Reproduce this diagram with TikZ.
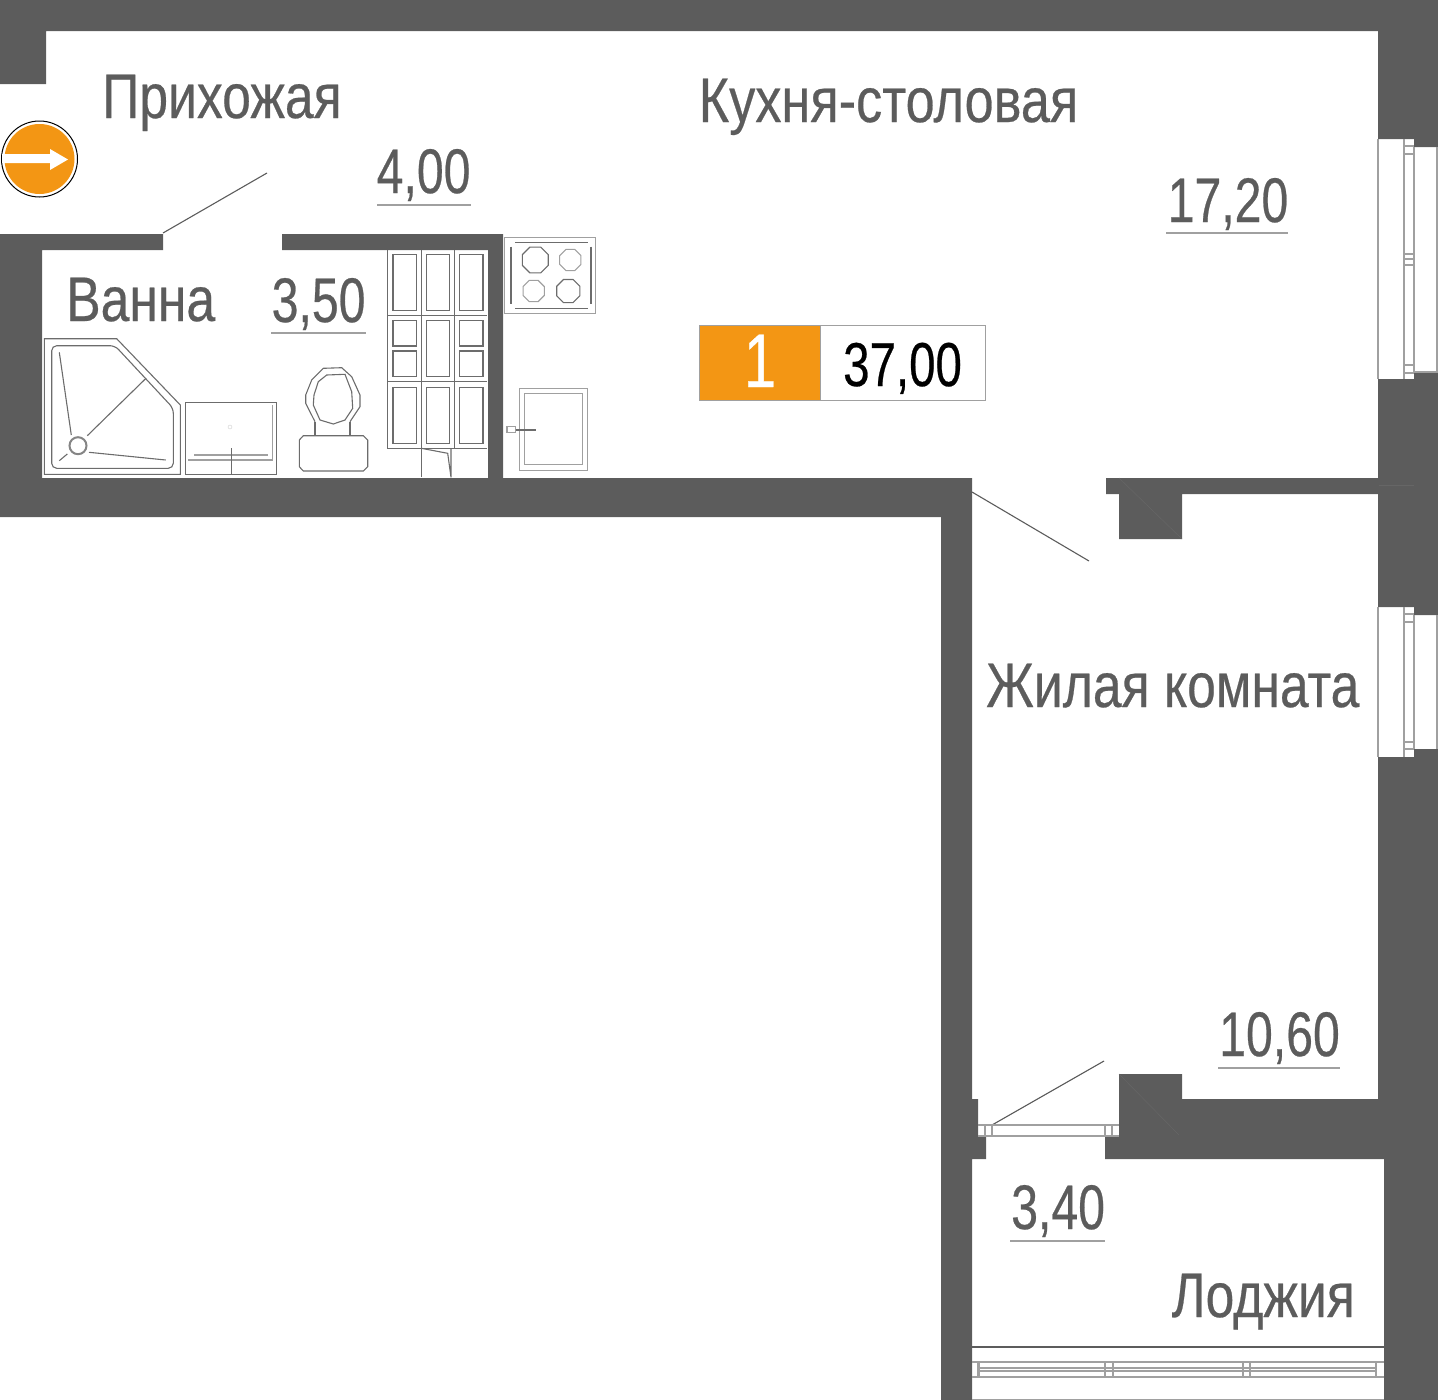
\documentclass[tikz,border=0pt]{standalone}
\usepackage{fontspec}
\setmainfont[FakeStretch=0.82, FakeBold=0.4]{Liberation Sans}
\newfontfamily\widerfont[FakeStretch=0.83, FakeBold=0.4]{Liberation Sans}
\newfontfamily\areafont[FakeStretch=0.765, FakeBold=0.4]{Liberation Sans}
\usetikzlibrary{shapes.geometric, positioning}
\definecolor{wallgrey}{HTML}{5C5C5C}
\definecolor{framegrey}{HTML}{A0A0A0}
\definecolor{signorange}{HTML}{F39614}
\tikzset{
    wall/.style={fill=wallgrey},
    seam/.style={draw=wallgrey!94!white, line width=0.5pt},
    fixture/.style={draw=wallgrey!90!white, line width=1.1pt},
    frame/.style={draw=framegrey, line width=1.1pt},
    doorleaf/.style={draw=wallgrey, line width=1.1pt},
    roomname/.style={anchor=base west, inner sep=0pt, text=wallgrey, font=\fontsize{63}{70}\selectfont},
    roomarea/.style={anchor=base west, inner sep=0pt, text=wallgrey, font=\areafont\fontsize{63}{70}\selectfont},
    rule/.style={draw=framegrey, line width=1.1pt},
    burner/.style={draw=wallgrey!90!white, line width=1.1pt, regular polygon, regular polygon sides=8, inner sep=0pt}
}
\begin{document}
\begin{tikzpicture}[x=1pt, y=-1pt]
        \useasboundingbox (0,0) rectangle (1438,1400);

        % walls
        \fill[wall] (0,0) -- (1438,0) -- (1438,147) -- (1414,147) -- (1414,139) -- (1378,139) -- (1378,31) -- (46,31) -- (46,84) -- (0,84) -- cycle; % top
        \fill[wall] (1378,379) -- (1414,379) -- (1414,372) -- (1438,372) -- (1438,615) -- (1414,615) -- (1414,607) -- (1378,607) -- cycle; % right, between the windows
        \fill[wall] (1378,757) -- (1414,757) -- (1414,749) -- (1438,749) -- (1438,1400) -- (1384,1400) -- (1384,1159) -- (1105,1159) -- (1105,1136) -- (1119,1136) -- (1119,1074) -- (1182,1074) -- (1182,1099) -- (1378,1099) -- cycle; % right, lower
        \fill[wall] (0,234) -- (163,234) -- (163,250) -- (42,250) -- (42,478) -- (488,478) -- (488,250) -- (282,250) -- (282,234) -- (503,234) -- (503,478) -- (972,478) -- (972,1099) -- (978,1099) -- (978,1136) -- (986,1136) -- (986,1159) -- (972,1159) -- (972,1400) -- (941,1400) -- (941,517) -- (0,517) -- cycle; % bath and long wall
        \fill[wall] (1106,478) -- (1378,478) -- (1378,494) -- (1182,494) -- (1182,539) -- (1119,539) -- (1119,494) -- (1106,494) -- cycle; % partition with column
        \draw[seam] (1119,478) -- (1182,539);
        \draw[seam] (1119,1074) -- (1179,1135);
        \draw[seam] (1379,485) -- (1414,485);

        % door leaves
        \draw[doorleaf] (163,233) -- (267,173);
        \draw[doorleaf] (972,492) -- (1089,561);
        \draw[doorleaf] (992,1125) -- (1104,1061);

        % upper window
        \draw[frame] (1437,147) -- (1437,372) -- (1414,372);
        \draw[frame] (1378,139) -- (1378,379) (1404,139) -- (1404,379) (1414,147) -- (1414,372);
        \foreach \y in {146,154,254,259,265,365,373} {
            \draw[frame] (1404,\y) -- (1414,\y);
        }

        % lower window
        \draw[frame] (1437,615) -- (1437,749);
        \draw[frame] (1378,607) -- (1378,757) (1404,607) -- (1404,757) (1414,615) -- (1414,749);
        \foreach \y in {614,622,742,749} {
            \draw[frame] (1404,\y) -- (1414,\y);
        }

        % balcony door frame
        \draw[frame] (978,1125) -- (1119,1125) (978,1136) -- (1119,1136);
        \foreach \x in {985,992,1105,1112} {
            \draw[frame] (\x,1125) -- (\x,1136);
        }

        % loggia glazing
        \draw[doorleaf] (972,1347) -- (1384,1347);
        \draw[frame] (972,1362) -- (1384,1362) (972,1377) -- (1384,1377);
        \draw[frame] (978,1368) -- (1376,1368) (978,1371) -- (1376,1371);
        \foreach \x in {978,979.5,1105,1113,1243,1250,1376} {
            \draw[frame] (\x,1362) -- (\x,1377);
        }
        \draw[frame] (972,1399.4) -- (1384,1399.4);

        % shower
        \draw[fixture] (44.3,338.7) -- (116.7,338.7) -- (180.3,405) -- (180.3,474.3) -- (44.3,474.3) -- cycle;
        \draw[fixture, rounded corners=5pt] (51.7,345.7) -- (115,345.7) -- (173.3,408.3) -- (173.3,468.3) -- (51.7,468.3) -- cycle;
        \draw[fixture, line width=2pt, draw=framegrey!60!wallgrey] (78,445.7) circle[radius=8.5];
        \draw[fixture] (59.3,352.3) -- (71.3,435);
        \draw[fixture] (146,378.3) -- (87.3,435.7);
        \draw[fixture] (89,452.3) -- (165.7,460);
        \draw[fixture] (59.3,460.7) -- (67.3,454);

        % washbasin
        \draw[fixture] (185.3,402.3) rectangle (276.3,474.3);
        \draw[frame] (272.7,405) -- (272.7,460) -- (188.3,460);
        \draw[frame] (194.3,455) -- (267.7,455);
        \draw[fixture] (231.7,448.3) -- (231.7,474.3);
        \draw[frame, line width=0.4pt, draw=framegrey!50!white] (230,427) circle[radius=2];

        % toilet
        \draw[fixture] (315,421.7) -- (305.7,403.3) -- (305.7,395) -- (311.7,380) -- (323.3,368.3) -- (341.7,367.7) -- (351.7,376.7) -- (360,395) -- (360,406.7) -- (350,421.7);
        \draw[fixture] (313.3,405) -- (314,395) -- (318.3,381.7) -- (326.7,375) -- (345,374.3) -- (351.7,391.7) -- (352.7,408.3) -- (345,420) -- (333.3,424) -- (320,420) -- cycle;
        \draw[fixture] (315,421.7) -- (315,435.7) (350,421.7) -- (350,435.7);
        \draw[fixture] (303.3,435.7) -- (363.3,435.7) -- (367.7,440) -- (367.7,466.7) -- (363.3,471) -- (303.3,471) -- (299.3,466.7) -- (299.3,440) -- cycle;

        % cabinet
        \draw[fixture] (387.7,250) -- (387.7,448.3) -- (487,448.3);
        \draw[fixture] (421.3,250) -- (421.3,477.3) (454.3,250) -- (454.3,448.3);
        \draw[fixture] (387.7,315.3) -- (487,315.3) (387.7,381.7) -- (487,381.7);
        \foreach \xa/\xb in {393/416.7,426.3/449.7,459.3/483} {
            \draw[fixture] (\xa,254.3) rectangle (\xb,310.7);
            \draw[fixture] (\xa,387.3) rectangle (\xb,443.3);
        }
        \draw[fixture] (426.3,320.7) rectangle (449.7,376.7);
        \foreach \xa/\xb in {393/416.7,459.3/483} {
            \draw[fixture] (\xa,320.7) rectangle (\xb,346);
            \draw[fixture] (\xa,351) rectangle (\xb,376.7);
        }
        \draw[fixture] (421.3,448.3) -- (447.7,453.3) -- (451,477.3) (451,448.3) -- (451,477.3);

        % cooker
        \draw[frame] (504.3,237.7) rectangle (595.7,313.3);
        \draw[fixture] (515,242.3) -- (587.7,242.3) (515,308.3) -- (587.7,308.3);
        \draw[fixture] (511,246.7) -- (511,304.3) (591,246.7) -- (591,304.3);
        \node[burner, minimum size=28pt] (burnerA) at (535.3,260) {};
        \node[burner, minimum size=23pt, draw=framegrey] (burnerB) at (570.3,260) {};
        \node[burner, minimum size=23pt, draw=framegrey] (burnerC) at (533.7,291) {};
        \node[burner, minimum size=25pt] (burnerD) at (568.3,291) {};

        % fridge
        \draw[frame] (519.3,388.3) rectangle (587.3,470.3);
        \draw[frame, line width=1.4pt] (524.3,393.7) rectangle (582.3,464.3);
        \draw[frame] (507,426.7) rectangle (515.7,432.3);
        \draw[fixture] (515.7,430) -- (535.7,430);

        % entrance sign
        \fill[white] (39.5,159) circle[radius=38];
        \draw[black, line width=1pt] (39.5,159) circle[radius=38];
        \fill[signorange] (39.5,159) circle[radius=35];
        \fill[white] (2,154) -- (50,154) -- (50,149) -- (68,159.5) -- (50,170) -- (50,163) -- (2,163) -- cycle;

        % total area box
        \node[draw=framegrey, fill=signorange, minimum width=121pt, minimum height=75pt, inner sep=0pt, outer sep=0pt, anchor=north west] (roomsBox) at (699.5,325) {};
        \node[draw=framegrey, minimum width=164.5pt, minimum height=75pt, inner sep=0pt, outer sep=0pt, anchor=north west] (totalBox) at (820.5,325) {};
        \node[anchor=base, text=white, inner sep=0pt, font=\areafont\fontsize{76}{80}\selectfont] (roomsNum) at (760,387) {1};
        \node[anchor=base west, inner sep=0pt, font=\areafont\fontsize{62}{70}\selectfont] (totalNum) at (843,386) {37,00};

        % room names
        \node[roomname] (hallName) at (102,118) {Прихожая};
        \node[roomname, font=\widerfont\fontsize{63}{70}\selectfont] (kitchenName) at (698.5,122) {Кухня-столовая};
        \node[roomname] (bathName) at (66,321) {Ванна};
        \node[roomname] (livingName) at (986,707) {Жилая комната};
        \node[roomname] (loggiaName) at (1171.5,1317) {Лоджия};

        % room areas
        \node[roomarea] (hallArea) at (376.5,193) {4,00};
        \node[roomarea] (kitchenArea) at (1167.5,222) {17,20};
        \node[roomarea] (bathArea) at (271.5,322) {3,50};
        \node[roomarea] (livingArea) at (1219,1056) {10,60};
        \node[roomarea] (loggiaArea) at (1011,1229) {3,40};
        \draw[rule] (377,205) -- (471,205);
        \draw[rule] (1166,233) -- (1288,233);
        \draw[rule] (271,333) -- (366,333);
        \draw[rule] (1218,1068) -- (1340,1068);
        \draw[rule] (1010,1241) -- (1105,1241);

\end{tikzpicture}
\end{document}
